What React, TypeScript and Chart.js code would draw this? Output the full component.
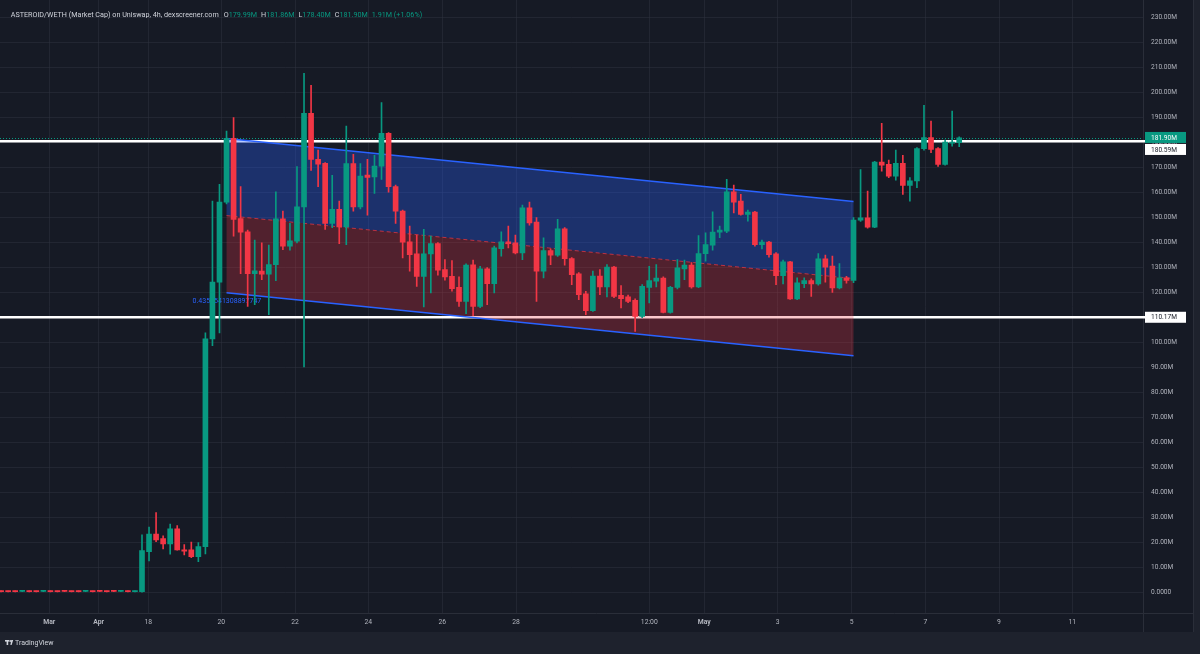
import { useEffect, useRef } from "react";
import { Chart, registerables } from "chart.js";

Chart.register(...registerables);

// ---- candle data (market cap, millions) ----
const opens = [
  0.6, 0.5, 0.6, 0.5, 0.6, 0.5, 0.5, 0.6, 0.5, 0.6,
  0.5, 0.6, 0.5, 0.5, 0.6, 0.5, 0.6, 0.5, 0.6, 0.4,
  0.4, 16.4, 23.4, 21.6, 19.5, 25.5, 17.1, 17.1, 14.4, 18.4,
  101.5, 124.2, 156.2, 181.7, 149.6, 144.3, 127.6, 128.6, 127.4, 131.2,
  149.5, 138.6, 140.6, 154.3, 191.7, 173.3, 171.7, 147.7, 153.3, 146.3,
  171.6, 154.3, 167.0, 166.3, 170.6, 183.7, 162.4, 152.6, 140.3, 135.5,
  126.5, 135.5, 139.6, 129.2, 126.5, 122.1, 116.5, 131.1, 114.5, 129.5,
  123.6, 137.6, 140.3, 139.9, 135.9, 153.9, 148.2, 128.6, 136.8, 135.0,
  145.5, 133.6, 127.5, 119.5, 112.8, 126.6, 122.3, 130.2, 118.9, 118.3,
  116.9, 110.5, 122.1, 124.6, 125.8, 112.1, 122.1, 129.5, 131.0, 122.3,
  135.6, 139.0, 144.2, 144.6, 160.3, 156.6, 151.3, 152.2, 139.2, 140.2,
  135.5, 126.8, 132.3, 117.5, 123.6, 124.8, 123.5, 133.5, 130.6, 121.9,
  125.9, 124.9, 149.0, 149.9, 146.2, 172.2, 171.3, 166.6, 171.7, 162.9,
  164.7, 177.6, 182.0, 177.6, 171.3, 179.8, 179.99,
];
const highs = [
  0.7, 0.6, 0.7, 0.7, 0.7, 0.6, 0.7, 0.7, 0.6, 0.7,
  0.6, 0.7, 0.7, 0.6, 0.7, 0.6, 0.7, 0.7, 0.7, 0.7,
  23.1, 26.2, 32.0, 22.7, 27.4, 26.8, 19.2, 20.2, 20.0, 103.9,
  156.6, 163.3, 184.6, 190.0, 162.4, 145.0, 141.0, 139.9, 139.0, 160.3,
  152.6, 147.7, 170.4, 207.7, 202.9, 177.0, 172.0, 166.9, 156.6, 186.6,
  175.3, 171.6, 173.3, 174.9, 196.0, 184.0, 163.0, 153.0, 146.6, 143.0,
  145.3, 142.6, 140.0, 133.2, 132.8, 126.3, 131.5, 133.0, 130.5, 130.0,
  138.6, 144.3, 146.6, 143.0, 155.0, 156.2, 150.0, 141.9, 137.5, 149.3,
  146.0, 134.0, 128.0, 120.5, 128.6, 129.2, 131.2, 130.5, 122.8, 119.0,
  117.5, 123.2, 130.5, 131.2, 126.3, 122.5, 133.2, 133.0, 132.0, 142.8,
  143.9, 152.3, 146.6, 165.3, 163.0, 159.3, 153.0, 152.5, 141.0, 140.5,
  136.0, 133.0, 132.5, 125.9, 125.9, 125.5, 135.6, 135.0, 134.6, 131.6,
  126.5, 150.0, 169.2, 160.6, 172.5, 187.7, 173.0, 177.0, 174.9, 166.0,
  178.0, 194.9, 188.6, 178.0, 181.0, 192.6, 182.3,
];
const lows = [
  0.3, 0.3, 0.3, 0.4, 0.3, 0.3, 0.4, 0.3, 0.3, 0.4,
  0.3, 0.3, 0.4, 0.3, 0.4, 0.3, 0.4, 0.4, 0.3, 0.3,
  0.2, 12.7, 20.4, 17.5, 15.4, 17.0, 15.1, 14.0, 12.4, 15.5,
  98.8, 103.9, 155.5, 142.6, 127.6, 114.5, 115.2, 125.2, 111.2, 124.8,
  137.2, 137.0, 139.9, 90.3, 168.9, 162.4, 145.3, 146.0, 139.6, 139.2,
  152.6, 153.5, 151.0, 159.7, 165.3, 160.2, 147.7, 133.9, 128.6, 122.5,
  114.3, 119.9, 127.0, 125.0, 120.6, 114.5, 111.6, 110.8, 114.0, 115.2,
  119.9, 134.6, 137.9, 135.5, 133.2, 147.0, 116.5, 125.9, 131.2, 134.5,
  131.0, 123.2, 117.2, 111.2, 112.5, 119.2, 118.3, 118.0, 113.9, 116.0,
  104.5, 110.0, 115.9, 122.3, 111.9, 111.8, 121.5, 125.2, 121.8, 122.0,
  132.6, 137.0, 142.0, 144.0, 151.9, 151.0, 148.6, 138.6, 137.5, 134.2,
  123.2, 123.5, 117.3, 117.2, 122.0, 118.5, 123.0, 124.2, 120.1, 121.5,
  123.8, 124.0, 148.5, 145.8, 146.0, 168.6, 166.0, 165.0, 159.3, 156.6,
  162.0, 177.0, 176.0, 170.5, 171.0, 178.6, 178.4,
];
const closes = [
  0.4, 0.4, 0.4, 0.6, 0.4, 0.4, 0.6, 0.4, 0.4, 0.5,
  0.4, 0.4, 0.6, 0.4, 0.5, 0.4, 0.5, 0.6, 0.4, 0.6,
  16.8, 23.4, 21.1, 19.5, 25.5, 17.1, 16.6, 14.4, 18.4, 101.5,
  124.2, 156.2, 181.7, 149.3, 144.2, 127.6, 128.7, 127.4, 131.2, 149.5,
  138.6, 140.7, 154.3, 191.7, 173.3, 171.4, 147.7, 153.3, 146.3, 171.6,
  154.3, 166.6, 166.1, 170.6, 183.7, 162.4, 152.6, 140.2, 135.2, 126.5,
  135.5, 139.6, 129.0, 126.3, 121.6, 116.5, 131.0, 114.5, 129.5, 123.6,
  137.9, 140.3, 139.6, 135.9, 153.9, 147.9, 128.6, 136.8, 135.0, 145.5,
  133.6, 127.2, 119.2, 112.8, 126.6, 122.3, 130.2, 118.5, 117.6, 116.5,
  110.5, 122.5, 124.8, 125.8, 112.1, 122.1, 129.9, 131.0, 122.3, 135.6,
  139.2, 144.2, 145.0, 160.3, 156.2, 151.3, 152.2, 139.2, 140.2, 135.2,
  126.8, 132.3, 117.5, 123.9, 124.8, 123.5, 133.5, 130.2, 121.9, 125.9,
  124.9, 149.0, 149.9, 146.2, 172.2, 171.0, 166.6, 171.7, 162.9, 164.7,
  177.6, 182.0, 177.3, 171.3, 180.2, 180.2, 181.9,
];

// ---- axes ----
const yTickValues = [0, 10, 20, 30, 40, 50, 60, 70, 80, 90, 100, 110, 120, 130, 140, 150, 160, 170, 180, 190, 200, 210, 220, 230];
const xTickPositions = [6.84, 13.85, 20.89, 31.26, 41.72, 52.12, 62.63, 73.09, 92.01, 99.81, 110.23, 120.74, 131.19, 141.65, 152.05];
const xTickLabels = ["Mar", "Apr", "18", "20", "22", "24", "26", "28", "12:00", "May", "3", "5", "7", "9", "11"];
const xTickBold = [true, true, false, false, false, false, false, false, false, true, false, false, false, false, false];

// ---- drawings ----
const horizontalLevels = [180.59, 110.17];
const horizontalLabels = ["180.59M", "110.17M"];
const lastPrice = 181.9;
const lastPriceLabel = "181.90M";
const channelIndex = [32, 121];
const channelUpper = [181.7, 156.5];
const channelLower = [120.0, 94.8];
const pearsonLabel = "0.4354541308897747";

const headerTitle = "ASTEROID/WETH (Market Cap) on Uniswap, 4h, dexscreener.com";
const headerKeys = ["O", "H", "L", "C"];
const headerValues = ["179.99M", "181.86M", "178.40M", "181.90M"];
const headerChange = "1.91M (+1.06%)";

const BG = "#161A25";
const PANEL = "#1E222D";
const GRID = "rgba(46,50,62,0.55)";
const BORDER = "#2A2E39";
const TEXT = "#B2B5BE";
const UP = "#089981";
const DOWN = "#F23645";
const FONT = "Roboto, 'Noto Sans', sans-serif";

const X_MIN = -0.156;
const X_MAX = 162.09;
const Y_MIN = -8.0;
const Y_MAX = 237.08;

const tvPlugin = {
  id: "tvDecor",
  beforeDraw(chart: any) {
    const { ctx, width, height } = chart;
    ctx.save();
    ctx.fillStyle = BG;
    ctx.fillRect(0, 0, width, height);
    ctx.restore();
  },
  beforeDatasetsDraw(chart: any) {
    const { ctx, chartArea: a, scales } = chart;
    const xs = scales.x;
    const ys = scales.y;
    ctx.save();
    ctx.beginPath();
    ctx.rect(a.left, a.top, a.right - a.left, a.bottom - a.top);
    ctx.clip();

    // horizontal white levels
    ctx.strokeStyle = "#FFFFFF";
    ctx.lineWidth = 2.5;
    horizontalLevels.forEach((v) => {
      const py = ys.getPixelForValue(v);
      ctx.beginPath();
      ctx.moveTo(a.left, py);
      ctx.lineTo(a.right, py);
      ctx.stroke();
    });

    // last price dotted line
    const lp = Math.round(ys.getPixelForValue(lastPrice)) + 0.5;
    ctx.strokeStyle = UP;
    ctx.lineWidth = 1;
    ctx.setLineDash([1, 2]);
    ctx.beginPath();
    ctx.moveTo(a.left, lp);
    ctx.lineTo(a.right, lp);
    ctx.stroke();
    ctx.setLineDash([]);

    // regression channel
    const x1 = xs.getPixelForValue(channelIndex[0]);
    const x2 = xs.getPixelForValue(channelIndex[1]);
    const u1 = ys.getPixelForValue(channelUpper[0]);
    const u2 = ys.getPixelForValue(channelUpper[1]);
    const l1 = ys.getPixelForValue(channelLower[0]);
    const l2 = ys.getPixelForValue(channelLower[1]);
    const m1 = ys.getPixelForValue((channelUpper[0] + channelLower[0]) / 2);
    const m2 = ys.getPixelForValue((channelUpper[1] + channelLower[1]) / 2);

    ctx.fillStyle = "rgba(41,98,255,0.33)";
    ctx.beginPath();
    ctx.moveTo(x1, u1);
    ctx.lineTo(x2, u2);
    ctx.lineTo(x2, m2);
    ctx.lineTo(x1, m1);
    ctx.closePath();
    ctx.fill();

    ctx.fillStyle = "rgba(242,54,69,0.27)";
    ctx.beginPath();
    ctx.moveTo(x1, m1);
    ctx.lineTo(x2, m2);
    ctx.lineTo(x2, l2);
    ctx.lineTo(x1, l1);
    ctx.closePath();
    ctx.fill();

    ctx.strokeStyle = "#2962FF";
    ctx.lineWidth = 1.5;
    ctx.beginPath();
    ctx.moveTo(x1, u1);
    ctx.lineTo(x2, u2);
    ctx.moveTo(x1, l1);
    ctx.lineTo(x2, l2);
    ctx.stroke();

    ctx.strokeStyle = "rgba(242,54,69,0.7)";
    ctx.lineWidth = 1;
    ctx.setLineDash([4, 3]);
    ctx.beginPath();
    ctx.moveTo(x1, m1);
    ctx.lineTo(x2, m2);
    ctx.stroke();
    ctx.setLineDash([]);

    ctx.fillStyle = "#2962FF";
    ctx.font = `7px ${FONT}`;
    ctx.textAlign = "left";
    ctx.textBaseline = "middle";
    ctx.fillText(pearsonLabel, x1 - 34, l1 + 9);
    ctx.restore();
  },
  afterDraw(chart: any) {
    const { ctx, width, height, chartArea: a, scales } = chart;
    const ys = scales.y;
    ctx.save();

    // panels and borders
    ctx.fillStyle = PANEL;
    ctx.fillRect(0, 632, width, height - 632);
    ctx.fillRect(1193, 0, width - 1193, 632);
    ctx.strokeStyle = BORDER;
    ctx.lineWidth = 1;
    ctx.beginPath();
    ctx.moveTo(a.right + 0.5, 0);
    ctx.lineTo(a.right + 0.5, 632);
    ctx.moveTo(0, Math.round(a.bottom) + 0.5);
    ctx.lineTo(1193, Math.round(a.bottom) + 0.5);
    ctx.moveTo(1193.5, 0);
    ctx.lineTo(1193.5, 632);
    ctx.stroke();

    // price label boxes on the axis
    const boxX = a.right + 2;
    const boxW = 41;
    const boxH = 11;
    ctx.font = `6.6px ${FONT}`;
    ctx.textAlign = "left";
    ctx.textBaseline = "middle";

    const lpY = ys.getPixelForValue(lastPrice);
    const whiteY0 = ys.getPixelForValue(horizontalLevels[0]);
    const whiteY1 = ys.getPixelForValue(horizontalLevels[1]);

    ctx.strokeStyle = "#FFFFFF";
    ctx.lineWidth = 2.5;
    [whiteY0, whiteY1].forEach((py) => {
      ctx.beginPath();
      ctx.moveTo(a.right, py);
      ctx.lineTo(boxX, py);
      ctx.stroke();
    });

    const greenTop = lpY - boxH / 2 - 0.5;
    ctx.fillStyle = UP;
    ctx.fillRect(boxX, greenTop, boxW, boxH);
    ctx.fillStyle = "#FFFFFF";
    ctx.fillText(lastPriceLabel, boxX + 6, greenTop + boxH / 2 + 0.5);

    const w0Top = Math.max(whiteY0 - boxH / 2, greenTop + boxH + 1);
    ctx.fillStyle = "#FFFFFF";
    ctx.fillRect(boxX, w0Top, boxW, boxH);
    ctx.fillRect(boxX, whiteY1 - boxH / 2, boxW, boxH);
    ctx.fillStyle = "#131722";
    ctx.fillText(horizontalLabels[0], boxX + 6, w0Top + boxH / 2 + 0.5);
    ctx.fillText(horizontalLabels[1], boxX + 6, whiteY1 + 0.5);

    // header
    ctx.font = `7.2px ${FONT}`;
    let hx = 10.7;
    const hy = 15;
    ctx.fillStyle = "#D1D4DC";
    ctx.fillText(headerTitle, hx, hy);
    hx += ctx.measureText(headerTitle).width + 5;
    headerKeys.forEach((k, i) => {
      ctx.fillStyle = "#D1D4DC";
      ctx.fillText(k, hx, hy);
      hx += ctx.measureText(k).width;
      ctx.fillStyle = UP;
      ctx.fillText(headerValues[i], hx, hy);
      hx += ctx.measureText(headerValues[i]).width + 4;
    });
    ctx.fillStyle = UP;
    ctx.fillText(headerChange, hx, hy);

    // TradingView logo
    ctx.fillStyle = "#D1D4DC";
    ctx.fillRect(5, 640, 4, 1.6);
    ctx.fillRect(6.6, 640, 1.6, 5);
    ctx.beginPath();
    ctx.arc(10.2, 641, 0.9, 0, Math.PI * 2);
    ctx.fill();
    ctx.beginPath();
    ctx.moveTo(11.2, 640);
    ctx.lineTo(13.2, 640);
    ctx.lineTo(11.6, 645);
    ctx.lineTo(10.4, 645);
    ctx.closePath();
    ctx.fill();
    ctx.font = `7px ${FONT}`;
    ctx.fillText("TradingView", 15, 643);
    ctx.restore();
  },
};

export default function App() {
  const canvasRef = useRef<HTMLCanvasElement | null>(null);

  useEffect(() => {
    const canvas = canvasRef.current;
    if (!canvas) return;
    const colors = opens.map((o, i) => (closes[i] >= o ? UP : DOWN));
    const wickData = opens.map((_, i) => ({ x: i, y: [lows[i], highs[i]] }));
    const bodyData = opens.map((o, i) => ({ x: i, y: [o, closes[i]] }));

    const chart = new Chart(canvas, {
      type: "bar",
      data: {
        datasets: [
          {
            label: "wicks",
            data: wickData as any,
            backgroundColor: colors,
            barThickness: 1,
            grouped: false,
            order: 2,
            borderWidth: 0,
          } as any,
          {
            label: "bodies",
            data: bodyData as any,
            backgroundColor: colors,
            barThickness: 5,
            minBarLength: 1,
            grouped: false,
            order: 1,
            borderWidth: 0,
          } as any,
        ],
      },
      options: {
        animation: false,
        responsive: false,
        maintainAspectRatio: false,
        layout: { padding: 0 },
        plugins: {
          legend: { display: false },
          tooltip: { enabled: false },
        },
        scales: {
          x: {
            type: "linear",
            min: X_MIN,
            max: X_MAX,
            offset: false,
            grid: { color: GRID, drawTicks: false, offset: false },
            border: { display: false },
            ticks: {
              autoSkip: false,
              maxRotation: 0,
              padding: 6,
              color: TEXT,
              font: (ctx: any) => ({
                family: FONT,
                size: 6.8,
                weight: xTickBold[ctx.index] ? "bold" : "normal",
              }),
              callback: (_v: any, i: number) => xTickLabels[i],
            },
            afterBuildTicks: (scale: any) => {
              scale.ticks = xTickPositions.map((v) => ({ value: v }));
            },
            afterFit: (scale: any) => {
              scale.height = 654 - 612.7;
              scale.paddingLeft = 0;
              scale.paddingRight = 0;
            },
          } as any,
          y: {
            type: "linear",
            position: "right",
            min: Y_MIN,
            max: Y_MAX,
            grid: { color: GRID, drawTicks: false },
            border: { display: false },
            ticks: {
              padding: 8,
              color: TEXT,
              font: { family: FONT, size: 6.6 },
              callback: (v: any) => (Number(v) === 0 ? "0.0000" : Number(v).toFixed(2) + "M"),
            },
            afterBuildTicks: (scale: any) => {
              scale.ticks = yTickValues.map((v) => ({ value: v }));
            },
            afterFit: (scale: any) => {
              scale.width = 1200 - 1143;
              scale.paddingTop = 0;
              scale.paddingBottom = 0;
            },
          } as any,
        },
      },
      plugins: [tvPlugin],
    });
    return () => chart.destroy();
  }, []);

  return (
    <div style={{ position: "fixed", left: 0, top: 0, width: 1200, height: 654, background: BG }}>
      <canvas ref={canvasRef} width={1200} height={654} style={{ display: "block", width: 1200, height: 654 }} />
    </div>
  );
}
